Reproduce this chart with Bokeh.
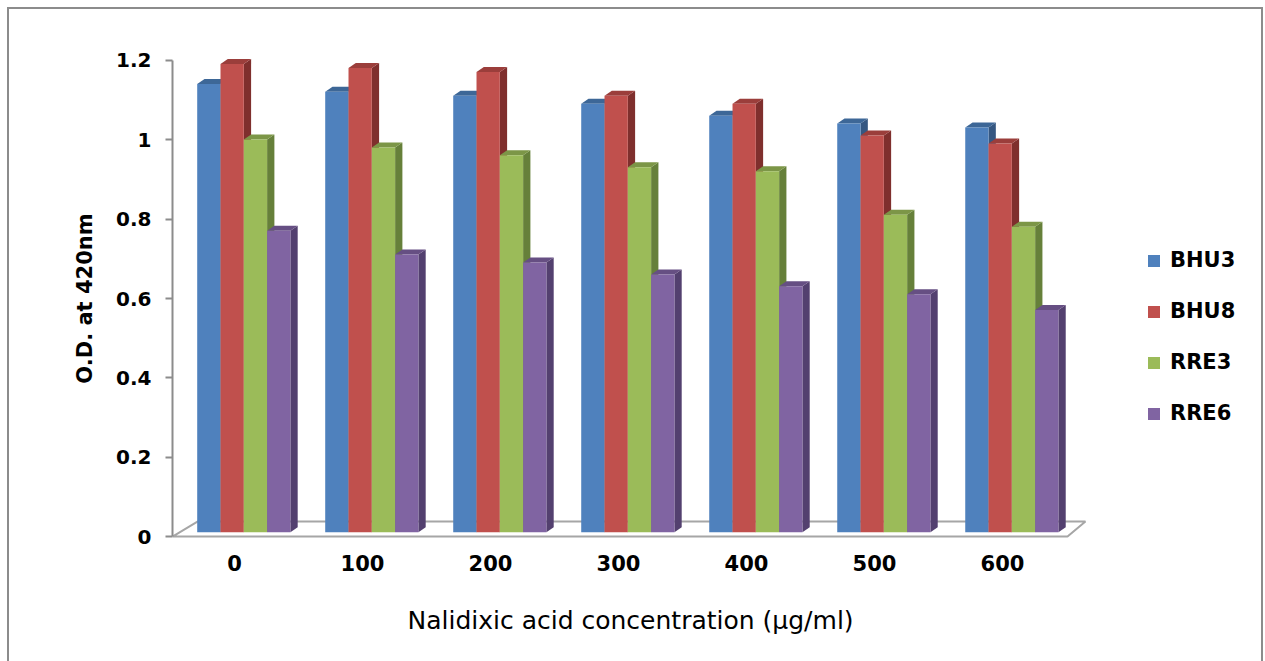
from bokeh.plotting import figure
from bokeh.models import (FixedTicker, Legend, LegendItem, Range1d, Title)
from bokeh.embed import file_html
from bokeh.resources import INLINE

# ---- data -------------------------------------------------------------
concentrations = ["0", "100", "200", "300", "400", "500", "600"]
series_names = ["BHU3", "BHU8", "RRE3", "RRE6"]
bhu3 = [1.13, 1.11, 1.10, 1.08, 1.05, 1.03, 1.02]
bhu8 = [1.18, 1.17, 1.16, 1.10, 1.08, 1.00, 0.98]
rre3 = [0.99, 0.97, 0.95, 0.92, 0.91, 0.80, 0.77]
rre6 = [0.76, 0.70, 0.68, 0.65, 0.62, 0.60, 0.56]
y_ticks = [0, 0.2, 0.4, 0.6, 0.8, 1.0, 1.2]
y_tick_labels = ["0", "0.2", "0.4", "0.6", "0.8", "1", "1.2"]

front_colors = ["#4F81BD", "#C0504D", "#9BBB59", "#8064A2"]
top_colors = ["#3D6797", "#9B3E3B", "#7C9647", "#664F83"]
side_colors = ["#355781", "#7F2F2D", "#66803A", "#53406F"]

# ---- geometry of the pseudo-3D columns (data units) --------------------
bar_w = 0.182        # width of one column's front face
depth_x = 0.057      # oblique depth offset, horizontal
depth_y = 0.0126     # oblique depth offset, vertical
base = 0.0108        # columns stand slightly behind the floor's front edge
group_left = -0.291  # front-left corner of each group relative to its tick

x_start, x_end = -0.484, 8.0
y_start, y_end = -0.015, 1.215

p = figure(width=1256, height=656, output_backend="svg", toolbar_location=None,
           x_range=Range1d(x_start, x_end), y_range=Range1d(y_start, y_end),
           min_border_left=163, min_border_right=7, min_border_top=45,
           min_border_bottom=123, margin=(7, 0, 0, 7))
p.styles = {"border": "2px solid #8C8C8C"}
p.background_fill_color = "white"
p.border_fill_color = "white"
p.outline_line_color = None
p.grid.visible = False

n = len(concentrations)
floor_front_r = n - 1 + 0.508
floor_xs = [x_start, floor_front_r, floor_front_r + 0.140, x_start + 0.195]
floor_ys = [0, 0, 0.0378, 0.0378]
p.patch(floor_xs, floor_ys, fill_color="white", line_color="#A6A6A6", line_width=2)

values = [bhu3, bhu8, rre3, rre6]
fronts = []
# side and top faces first, then the front faces so neighbours overlap properly
for s, vals in enumerate(values):
    side_xs, side_ys, top_xs, top_ys = [], [], [], []
    for i, v in enumerate(vals):
        x0 = i + group_left + s * bar_w
        x1 = x0 + bar_w
        t = v + base
        side_xs.append([x1, x1 + depth_x, x1 + depth_x, x1])
        side_ys.append([base, base + depth_y, t + depth_y, t])
        top_xs.append([x0, x0 + depth_x, x1 + depth_x, x1])
        top_ys.append([t, t + depth_y, t + depth_y, t])
    p.patches(side_xs, side_ys, fill_color=side_colors[s], line_color=None)
    p.patches(top_xs, top_ys, fill_color=top_colors[s], line_color=None)

for s, vals in enumerate(values):
    lefts = [i + group_left + s * bar_w for i in range(n)]
    rights = [l + bar_w for l in lefts]
    tops = [v + base for v in vals]
    r = p.quad(left=lefts, right=rights, bottom=base, top=tops,
               fill_color=front_colors[s], line_color=None)
    fronts.append(r)

# ---- axes ---------------------------------------------------------------
yax = p.yaxis[0]
yax.ticker = FixedTicker(ticks=y_ticks)
yax.major_label_overrides = {t: lab for t, lab in zip(y_ticks, y_tick_labels)}
yax.bounds = (0, 1.2)
yax.axis_line_color = "#8C8C8C"
yax.axis_line_width = 2
yax.major_tick_line_color = "#8C8C8C"
yax.major_tick_line_width = 2
yax.major_tick_out = 7
yax.major_tick_in = 0
yax.minor_tick_line_color = None
yax.major_label_standoff = 14
yax.major_label_text_font = "DejaVu Sans"
yax.major_label_text_font_style = "bold"
yax.major_label_text_font_size = "20px"
yax.major_label_text_color = "black"
yax.axis_label = "O.D. at 420nm"
yax.axis_label_text_font = "DejaVu Sans"
yax.axis_label_text_font_style = "bold"
yax.axis_label_text_font_size = "21px"
yax.axis_label_text_color = "black"
yax.axis_label_standoff = 16

xax = p.xaxis[0]
xax.ticker = FixedTicker(ticks=list(range(n)))
xax.major_label_overrides = {i: c for i, c in enumerate(concentrations)}
xax.axis_line_color = None
xax.major_tick_line_color = None
xax.minor_tick_line_color = None
xax.major_label_standoff = 6
xax.major_label_text_font = "DejaVu Sans"
xax.major_label_text_font_style = "bold"
xax.major_label_text_font_size = "21px"
xax.major_label_text_color = "black"

# x-axis title, placed under the columns rather than centred on the whole frame
p.add_layout(Title(text="Nalidixic acid concentration (\u00b5g/ml)", align="left",
                   offset=235, standoff=61, text_font="DejaVu Sans",
                   text_font_style="normal", text_font_size="25px",
                   text_color="black"), "below")

# ---- legend -------------------------------------------------------------
legend = Legend(items=[LegendItem(label=nm, renderers=[r]) for nm, r in zip(series_names, fronts)],
                location=(974, 116), orientation="vertical",
                glyph_width=15, glyph_height=15, label_standoff=9,
                label_height=26, spacing=25, padding=0, margin=0,
                label_text_font="DejaVu Sans", label_text_font_style="bold",
                label_text_font_size="21px", label_text_color="black",
                border_line_color=None, background_fill_alpha=0)
p.add_layout(legend)

open("out.html", "w").write(file_html(p, INLINE))
